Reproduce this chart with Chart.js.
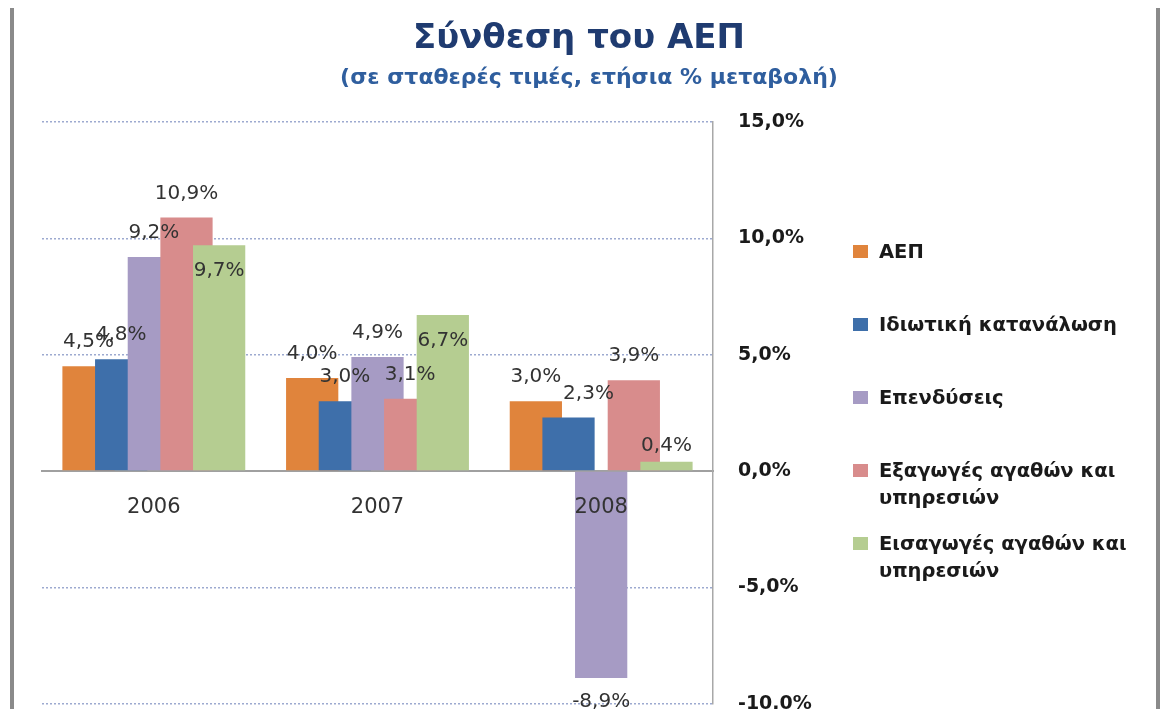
<!DOCTYPE html>
<html>
<head>
<meta charset="utf-8">
<script src="https://cdn.jsdelivr.net/npm/chart.js@4.4.1/dist/chart.umd.min.js"></script>
<style>
  html, body { margin: 0; padding: 0; background: #ffffff; overflow: hidden; width: 1162px; height: 709px; }
  #wrap { position: relative; width: 1162px; height: 709px; overflow: hidden; background: #fff; }
  #cv { position: absolute; left: 0; top: 0; }
  .border { position: absolute; top: 8px; width: 4px; height: 720px; background: #8a8a8a; }
  #title { position: absolute; left: 0; width: 1158px; top: 19px; text-align: center;
           font: bold 34px "DejaVu Sans", sans-serif; line-height: 34px; color: #1F3B70; white-space: nowrap; }
  #subtitle { position: absolute; left: 0; width: 1178px; top: 66px; text-align: center;
           font: bold 22px "DejaVu Sans", sans-serif; line-height: 22px; color: #2F5E9E; white-space: nowrap; }
  #legend { position: absolute; left: 853px; top: 238px; width: 300px; }
  .item { position: relative; height: 73px; }
  .sw { position: absolute; left: 0; top: 7px; width: 15px; height: 13px; }
  .txt { position: absolute; left: 26px; top: 0; width: 272px; font: bold 19.5px "DejaVu Sans", sans-serif;
         line-height: 27px; color: #1a1a1a; }
</style>
</head>
<body>
<div id="wrap">
  <canvas id="cv" width="1162" height="740"></canvas>
  <div class="border" style="left:10px"></div>
  <div class="border" style="left:1156px"></div>
  <div id="title"></div>
  <div id="subtitle"></div>
  <div id="legend"></div>
</div>
<script>
// ---- data ----
const titleText = 'Σύνθεση του ΑΕΠ';
const subtitleText = '(σε σταθερές τιμές, ετήσια % μεταβολή)';
const categories = ['2006', '2007', '2008'];
const seriesNames = ['ΑΕΠ', 'Ιδιωτική κατανάλωση', 'Επενδύσεις', 'Εξαγωγές αγαθών και υπηρεσιών', 'Εισαγωγές αγαθών και υπηρεσιών'];
const gdp = [4.5, 4.0, 3.0];
const privateConsumption = [4.8, 3.0, 2.3];
const investment = [9.2, 4.9, -8.9];
const exportsGS = [10.9, 3.1, 3.9];
const importsGS = [9.7, 6.7, 0.4];
const yMin = -10, yMax = 15, yStep = 5;

const seriesValues = [gdp, privateConsumption, investment, exportsGS, importsGS];
const seriesColors = ['#E0843C', '#3E6FAA', '#A69BC4', '#D88C8C', '#B5CD91'];

const fmt = v => v.toFixed(1).replace('.', ',') + '%';

document.getElementById('title').textContent = titleText;
document.getElementById('subtitle').textContent = subtitleText;

// draw datasets in index order so later series overlap earlier ones
const drawOrderPlugin = {
  id: 'drawOrder',
  beforeDatasetsDraw(chart) {
    const metas = chart.getSortedVisibleDatasetMetas().slice().sort((a, b) => a.index - b.index);
    metas.forEach(m => {
      if (typeof chart._drawDataset === 'function') chart._drawDataset(m);
      else m.controller.draw();
    });
    return false;
  }
};

const labelPlugin = {
  id: 'barLabels',
  afterDraw(chart, args, opts) {
    const ctx = chart.ctx;
    ctx.save();
    ctx.font = '20px "DejaVu Sans", sans-serif';
    ctx.fillStyle = '#333333';
    ctx.textAlign = 'center';
    ctx.textBaseline = 'middle';
    chart.data.datasets.forEach((ds, di) => {
      const meta = chart.getDatasetMeta(di);
      meta.data.forEach((bar, i) => {
        const v = ds.data[i];
        const n = (opts.nudges || {})[di + ':' + i] || [0, 0];
        const y = v >= 0 ? bar.y - 24 : bar.y + 24;
        ctx.fillText(fmt(v), bar.x + n[0], y + n[1]);
      });
    });
    ctx.restore();
  }
};

const chart = new Chart(document.getElementById('cv'), {
  type: 'bar',
  data: {
    labels: categories,
    datasets: seriesNames.map((name, i) => ({
      label: name,
      data: seriesValues[i],
      backgroundColor: seriesColors[i],
      borderWidth: 0,
      categoryPercentage: 0.73,
      barPercentage: 1.6
    }))
  },
  options: {
    responsive: false,
    animation: false,
    layout: { padding: { left: 42, top: 122, bottom: 7, right: 0 } },
    plugins: {
      legend: { display: false },
      title: { display: false },
      tooltip: { enabled: false },
      barLabels: { nudges: { '4:0': [0, 49], '4:1': [0, 50], '1:2': [20, 0], '4:2': [0, 8] } }
    },
    scales: {
      x: {
        type: 'category',
        position: { y: 0 },
        offset: true,
        grid: { display: false, drawTicks: false },
        border: { display: true, color: '#a0a0a0', width: 2 },
        ticks: { z: 1, color: '#333333', font: { family: '"DejaVu Sans", sans-serif', size: 21 }, padding: 24 }
      },
      y: {
        position: 'right',
        min: yMin,
        max: yMax,
        afterFit: s => { s.width = 449; },
        grid: {
          drawTicks: false,
          lineWidth: 1.5,
          color: c => (c.tick && c.tick.value === 0) ? 'rgba(0,0,0,0)' : '#9DAAD0'
        },
        border: { display: true, color: '#a8a8a8', width: 1.5, dash: [2, 2] },
        ticks: {
          stepSize: yStep,
          padding: 25,
          color: '#1a1a1a',
          font: { family: '"DejaVu Sans", sans-serif', size: 19, weight: 'bold' },
          callback: v => fmt(v)
        }
      }
    }
  },
  plugins: [drawOrderPlugin, labelPlugin]
});

// HTML legend built from the chart's datasets
const legend = document.getElementById('legend');
chart.data.datasets.forEach(ds => {
  const item = document.createElement('div');
  item.className = 'item';
  const sw = document.createElement('div');
  sw.className = 'sw';
  sw.style.background = ds.backgroundColor;
  const t = document.createElement('div');
  t.className = 'txt';
  t.textContent = ds.label;
  item.appendChild(sw);
  item.appendChild(t);
  legend.appendChild(item);
});
</script>
</body>
</html>
